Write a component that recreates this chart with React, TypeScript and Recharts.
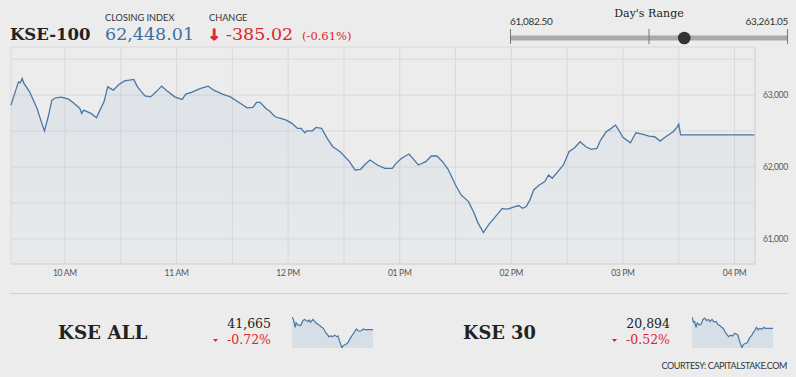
import React from 'react';
import { AreaChart, Area, XAxis, YAxis, CartesianGrid } from 'recharts';

// minutes since midnight, KSE-100 intraday
const times = [
  571, 575, 576, 577, 578, 581, 583, 585, 587, 589, 591, 593, 595, 598, 602, 605, 608, 609, 610, 614,
  617, 618, 621, 623, 626, 629, 632, 637, 639, 643, 646, 649, 652, 655, 659, 663, 665, 668, 673, 677,
  680, 685, 689, 693, 698, 701, 703, 705, 708, 710, 713, 716, 719, 722, 725, 727, 729, 730, 733, 735,
  738, 741, 744, 748, 753, 756, 759, 761, 764, 768, 772, 776, 778, 781, 785, 787, 790, 794, 797, 800,
  803, 806, 810, 813, 817, 820, 822, 825, 828, 830, 833, 835, 838, 842, 844, 846, 848, 850, 852, 855,
  858, 860, 862, 865, 868, 871, 874, 877, 880, 883, 886, 888, 891, 893, 896, 897, 900, 904, 907, 911,
  914, 917, 920, 923, 927, 929, 930, 931, 971,
];
const kse100 = [
  62861, 63185, 63171, 63232, 63163, 63046, 62931, 62815, 62653, 62500, 62699, 62931, 62963, 62972, 62944, 62885, 62815, 62746, 62792, 62746,
  62685, 62746, 62907, 63115, 63069, 63149, 63199, 63218, 63115, 62990, 62976, 63046, 63125, 63056, 62976, 62940, 63014, 63038, 63093, 63125,
  63069, 63010, 62976, 62907, 62824, 62829, 62899, 62899, 62815, 62778, 62699, 62676, 62653, 62607, 62538, 62538, 62476, 62504, 62504, 62551,
  62538, 62399, 62282, 62212, 62074, 61958, 61968, 62028, 62097, 62028, 61982, 61982, 62051, 62121, 62181, 62121, 62028, 62074, 62153, 62153,
  62074, 61968, 61750, 61611, 61518, 61357, 61226, 61087, 61204, 61264, 61357, 61421, 61413, 61449, 61463, 61426, 61449, 61542, 61681, 61750,
  61796, 61889, 61843, 61935, 62028, 62212, 62268, 62351, 62282, 62246, 62260, 62375, 62490, 62524, 62583, 62546, 62413, 62338, 62476, 62454,
  62431, 62421, 62361, 62421, 62490, 62551, 62597, 62448, 62448,
];

const xTicks = [571, 600, 630, 660, 690, 720, 750, 780, 810, 840, 870, 900, 930, 960];
const yTicks = [61000, 61500, 62000, 62500, 63000, 63500];

const allTimes = [
  571, 578, 587, 591, 601, 614, 625, 634, 643, 650, 657, 663, 675, 683, 691, 699, 709, 716, 726, 736,
  745, 752, 762, 772, 782, 792, 798, 806, 818, 824, 834, 844, 856, 864, 872, 880, 889, 897, 905, 913,
  923, 930, 971,
];
const kseAll = [
  42200, 42099, 41765, 41954, 41867, 41838, 42055, 42099, 42041, 42012, 42070, 41983, 42099, 42012, 41939, 41896, 41838, 41780, 41722, 41548,
  41475, 41373, 41403, 41373, 41432, 41373, 41403, 41185, 40895, 40997, 41040, 41084, 41258, 41373, 41475, 41577, 41693, 41620, 41606, 41620,
  41693, 41665, 41665,
];

const k30Times = [
  571, 578, 584, 591, 597, 607, 617, 625, 634, 643, 653, 660, 670, 680, 690, 699, 709, 716, 726, 736,
  745, 752, 762, 772, 782, 792, 798, 806, 818, 824, 834, 844, 856, 864, 872, 880, 889, 897, 905, 917,
  927, 933, 971,
];
const kse30 = [
  21150, 21034, 21049, 20918, 21018, 20972, 20995, 21096, 21127, 21073, 21096, 21049, 21096, 21034, 21049, 20980, 20956, 20925, 20894, 20801,
  20747, 20708, 20739, 20724, 20786, 20763, 20739, 20608, 20453, 20530, 20553, 20569, 20685, 20724, 20786, 20840, 20918, 20863, 20894, 20879,
  20918, 20894, 20894,
];

const closing = 62448.01;
const change = -385.02;
const changePct = -0.61;
const dayLow = 61082.5;
const dayHigh = 63261.05;

const mainData = times.map((t, i) => ({ t, v: kse100[i] }));
const allData = allTimes.map((t, i) => ({ t, v: kseAll[i] }));
const k30Data = k30Times.map((t, i) => ({ t, v: kse30[i] }));

const LINE = '#4a77a6';
const RED = '#e0242c';
const SERIF = '"DejaVu Serif", serif';
const SANS = 'Lato, "Open Sans", sans-serif';

const fmtTime = (t: number) => {
  if (t % 60 !== 0) return '';
  const h = t / 60;
  const h12 = h > 12 ? h - 12 : h;
  return `${String(h12).padStart(2, '0')} ${h >= 12 ? 'PM' : 'AM'}`;
};
const fmtVal = (v: number) => (v % 1000 === 0 ? v.toLocaleString('en-US') : '');
const fmt2 = (v: number) => v.toLocaleString('en-US', { minimumFractionDigits: 2, maximumFractionDigits: 2 });

const Spark = ({ data }: { data: { t: number; v: number }[] }) => (
  <AreaChart width={81} height={31} data={data} margin={{ top: 0, right: 0, bottom: 0, left: 0 }}>
    <XAxis dataKey="t" type="number" domain={[571, 971]} hide />
    <YAxis domain={['dataMin', 'dataMax']} hide />
    <Area type="linear" dataKey="v" stroke={LINE} strokeWidth={1.2} fill="#a9c1da" fillOpacity={0.32}
      dot={false} activeDot={false} isAnimationActive={false} />
  </AreaChart>
);

const rangeX0 = 510;
const rangeX1 = 788;
const dotX = rangeX0 + ((closing - dayLow) / (dayHigh - dayLow)) * (rangeX1 - rangeX0);

export default function App() {
  return (
    <div style={{ position: 'relative', width: 796, height: 377, background: '#ececec', fontFamily: SANS, overflow: 'hidden' }}>
      <style>{'body{margin:0}'}</style>
      <div style={{ position: 'absolute', left: 0, top: 0 }}>
        <AreaChart width={796} height={285} data={mainData} margin={{ top: 47, right: 0, bottom: 0, left: 11 }}>
          <defs>
            <linearGradient id="kseFill" x1="0" y1="0" x2="0" y2="1">
              <stop offset="0%" stopColor="#a9c1da" stopOpacity={0.34} />
              <stop offset="100%" stopColor="#a9c1da" stopOpacity={0.1} />
            </linearGradient>
          </defs>
          <CartesianGrid stroke="#d9d9d9" />
          <XAxis dataKey="t" type="number" domain={[571, 971]} ticks={xTicks} interval={0}
            tickFormatter={fmtTime} height={21} tickLine={false} tickSize={6} tickMargin={0}
            axisLine={{ stroke: '#d6d6d6' }} tick={{ fontSize: 8.5, fill: '#555', fontFamily: SANS, letterSpacing: -0.3 }} />
          <YAxis orientation="right" width={41} domain={[60650, 63670]} ticks={yTicks} interval={0}
            tickFormatter={fmtVal} tickLine={false} axisLine={{ stroke: '#d6d6d6' }}
            tick={{ fontSize: 8.5, fill: '#555', fontFamily: SANS, letterSpacing: -0.3 }} />
          <Area type="linear" dataKey="v" stroke={LINE} strokeWidth={1.3} fill="url(#kseFill)"
            dot={false} activeDot={false} isAnimationActive={false} />
        </AreaChart>
      </div>

      <div style={{ position: 'absolute', left: 292, top: 317 }}><Spark data={allData} /></div>
      <div style={{ position: 'absolute', left: 692, top: 317 }}><Spark data={k30Data} /></div>

      <svg width={796} height={377} style={{ position: 'absolute', left: 0, top: 0, pointerEvents: 'none' }}>
        {/* header */}
        <text x={10} y={40} fontFamily={SERIF} fontWeight="bold" fontSize={16.5} fill="#222">KSE-100</text>
        <text x={105} y={20.5} fontFamily={SANS} fontSize={9.2} fill="#333">CLOSING INDEX</text>
        <text x={105} y={40} fontFamily={SERIF} fontSize={17.5} fill="#3c6ea6">{fmt2(closing)}</text>
        <text x={209} y={20.5} fontFamily={SANS} fontSize={9.2} fill="#333">CHANGE</text>
        <text x={208} y={40} fontFamily='"DejaVu Sans", sans-serif' fontWeight="bold" fontSize={15}
          fill={RED} stroke={RED} strokeWidth={0.9}>↓</text>
        <text x={226} y={40} fontFamily={SERIF} fontSize={17.5} fill={RED}>{fmt2(change)}</text>
        <text x={302} y={40} fontFamily={SERIF} fontSize={11.5} fill={RED}>({changePct.toFixed(2)}%)</text>

        {/* day's range */}
        <text x={649} y={17} textAnchor="middle" fontFamily={SERIF} fontSize={11} fill="#222">Day's Range</text>
        <text x={rangeX0} y={25} fontFamily={SANS} fontSize={10} fill="#333" letterSpacing={-0.3}>{fmt2(dayLow)}</text>
        <text x={rangeX1} y={25} textAnchor="end" fontFamily={SANS} fontSize={10} fill="#333" letterSpacing={-0.3}>{fmt2(dayHigh)}</text>
        <rect x={rangeX0} y={35.5} width={rangeX1 - rangeX0} height={5} fill="#aaaaaa" />
        {[rangeX0 + 0.5, (rangeX0 + rangeX1) / 2, rangeX1 - 0.5].map((x) => (
          <line key={x} x1={x} x2={x} y1={29} y2={44} stroke="#777" strokeWidth={1} />
        ))}
        <circle cx={dotX} cy={38} r={6.3} fill="#333" />

        {/* separator */}
        <line x1={10} x2={788} y1={293.5} y2={293.5} stroke="#cfcfcf" strokeWidth={1} />

        {/* KSE ALL */}
        <text x={58} y={339} fontFamily={SERIF} fontWeight="bold" fontSize={18.3} fill="#222">KSE ALL</text>
        <text x={271} y={328} textAnchor="end" fontFamily={SERIF} fontSize={12.5} fill="#222">41,665</text>
        <text x={271} y={344} textAnchor="end" fontFamily={SERIF} fontSize={12.5} fill={RED}>-0.72%</text>
        <path d="M213 339 L218 339 L215.5 342 Z" fill={RED} />

        {/* KSE 30 */}
        <text x={463} y={339} fontFamily={SERIF} fontWeight="bold" fontSize={17.8} fill="#222">KSE 30</text>
        <text x={670} y={328} textAnchor="end" fontFamily={SERIF} fontSize={12.5} fill="#222">20,894</text>
        <text x={670} y={344} textAnchor="end" fontFamily={SERIF} fontSize={12.5} fill={RED}>-0.52%</text>
        <path d="M612 339 L617 339 L614.5 342 Z" fill={RED} />

        <text x={787} y={368.5} textAnchor="end" fontFamily={SANS} fontSize={9} fill="#333" letterSpacing={-0.4}>COURTESY: CAPITALSTAKE.COM</text>
      </svg>
    </div>
  );
}
